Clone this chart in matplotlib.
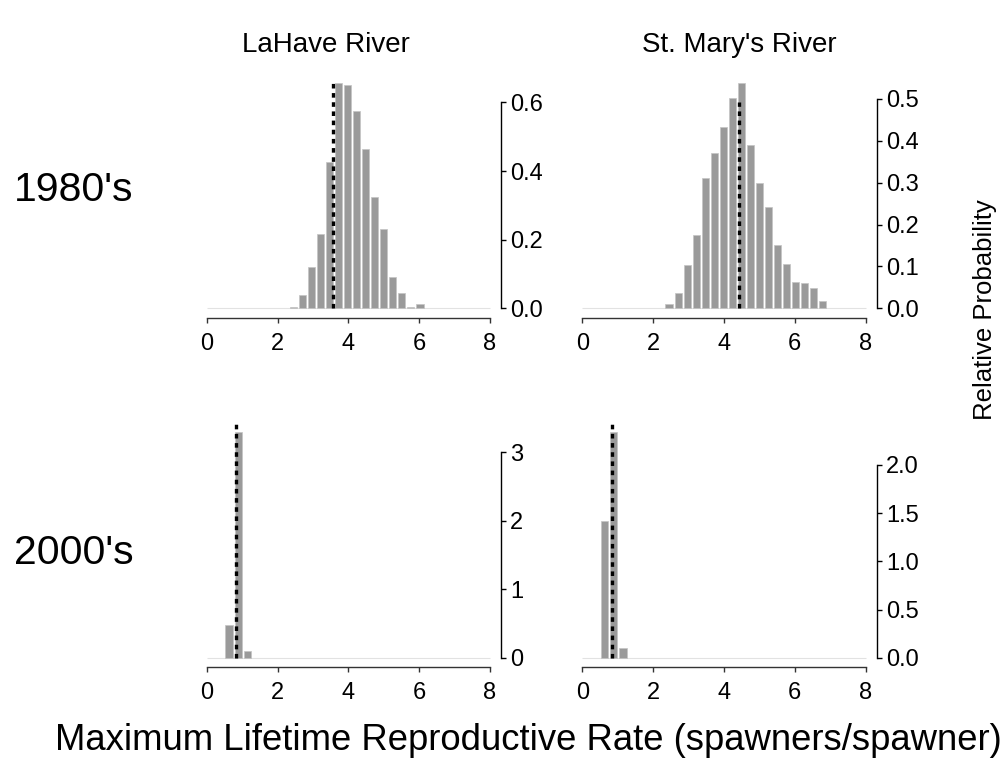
import matplotlib
matplotlib.use('Agg')
import matplotlib.pyplot as plt
import numpy as np

plt.rcParams['font.family'] = ['Liberation Sans', 'DejaVu Sans']
plt.rcParams['lines.scale_dashes'] = False

# ---------------- data ----------------
rivers = ["LaHave River", "St. Mary's River"]
decades = ["1980's", "2000's"]

lahave_1980_start = 2.44
lahave_1980_step = 0.256
lahave_1980 = [0.003, 0.040, 0.122, 0.217, 0.426, 0.656, 0.650, 0.575,
               0.465, 0.325, 0.232, 0.091, 0.045, 0.004, 0.014]

stmary_1980_start = 2.45
stmary_1980_step = 0.255
stmary_1980 = [0.010, 0.037, 0.104, 0.174, 0.311, 0.370, 0.433, 0.502,
               0.537, 0.390, 0.299, 0.241, 0.151, 0.107, 0.064, 0.060,
               0.048, 0.017]

lahave_2000_start = 0.63
lahave_2000_step = 0.26
lahave_2000 = [0.48, 3.29, 0.10]

stmary_2000_start = 0.63
stmary_2000_step = 0.26
stmary_2000 = [1.42, 2.34, 0.10]

# dotted reference lines: x position and height
ref_x = [3.58, 4.42, 0.84, 0.85]
ref_top = [0.658, 0.492, 3.41, 2.43]

y_ticks = [[0, 0.2, 0.4, 0.6], [0, 0.1, 0.2, 0.3, 0.4, 0.5],
           [0, 1, 2, 3], [0, 0.5, 1.0, 1.5, 2.0]]
y_ticklabels = [["0.0", "0.2", "0.4", "0.6"],
                ["0.0", "0.1", "0.2", "0.3", "0.4", "0.5"],
                ["0", "1", "2", "3"],
                ["0.0", "0.5", "1.0", "1.5", "2.0"]]
x_ticks = [0, 2, 4, 6, 8]
x_ticklabels = ["0", "2", "4", "6", "8"]

xlabel = "Maximum Lifetime Reproductive Rate (spawners/spawner)"
ylabel = "Relative Probability"

# ---------------- figure ----------------
W, H = 1008, 784
fig = plt.figure(figsize=(W / 100, H / 100), dpi=100)


def px_axes(left, top, right, bottom):
    return fig.add_axes([left / W, 1 - bottom / H, (right - left) / W, (bottom - top) / H])


boxes = [(195.4, 74, 501.3, 317.5), (570.9, 74, 877.0, 317.5),
         (195.4, 423.2, 501.3, 666.7), (570.9, 423.2, 877.0, 666.7)]
series = [(lahave_1980_start, lahave_1980_step, lahave_1980),
          (stmary_1980_start, stmary_1980_step, stmary_1980),
          (lahave_2000_start, lahave_2000_step, lahave_2000),
          (stmary_2000_start, stmary_2000_step, stmary_2000)]

bar_color = '#9a9a9a'
for i, (box, (start, step, vals)) in enumerate(zip(boxes, series)):
    ax = px_axes(*box)
    vals = np.array(vals)
    centers = start + step * np.arange(len(vals))
    ymax = vals.max()
    ax.hlines(0, 0, 8, color='#e2e2e2', lw=0.8, zorder=1)
    ax.bar(centers, vals, width=0.2, color=bar_color, edgecolor='#c4c4c4',
           linewidth=0.5, zorder=2)
    ax.vlines(ref_x[i], 0, ref_top[i], color='black', lw=2.4,
              linestyles=(0, (3.3, 3.3)), zorder=3)
    ax.set_xlim(-0.32, 8.32)
    ax.set_ylim(-0.04 * ymax, 1.04 * ymax)
    for s in ['top', 'left']:
        ax.spines[s].set_visible(False)
    ax.spines['bottom'].set_bounds(0, 8)
    ax.spines['bottom'].set_color('#333333')
    ax.spines['bottom'].set_linewidth(1.0)
    ax.spines['right'].set_bounds(y_ticks[i][0], y_ticks[i][-1])
    ax.spines['right'].set_linewidth(1.0)
    ax.yaxis.tick_right()
    ax.set_xticks(x_ticks)
    ax.set_xticklabels(x_ticklabels)
    ax.set_yticks(y_ticks[i])
    ax.set_yticklabels(y_ticklabels[i])
    ax.tick_params(axis='x', direction='out', length=3.5, width=1.0,
                   pad=7.5, labelsize=17, color='#333333')
    ax.tick_params(axis='y', direction='out', length=3.5, width=1.0,
                   pad=3, labelsize=17)
    ax.patch.set_alpha(0)

fig.text(326 / W, 1 - 45 / H, rivers[0], ha='center', va='center', fontsize=20)
fig.text(739 / W, 1 - 45 / H, rivers[1], ha='center', va='center', fontsize=20)
fig.text(74 / W, 1 - 190 / H, decades[0], ha='center', va='center', fontsize=29.5)
fig.text(74 / W, 1 - 553 / H, decades[1], ha='center', va='center', fontsize=29.5)
fig.text(985 / W, 1 - 310 / H, ylabel, ha='center', va='center',
         rotation=90, fontsize=18.5)
fig.text(528 / W, 1 - 740 / H, xlabel, ha='center', va='center', fontsize=26.3)

fig.savefig('out.png', dpi=100)
